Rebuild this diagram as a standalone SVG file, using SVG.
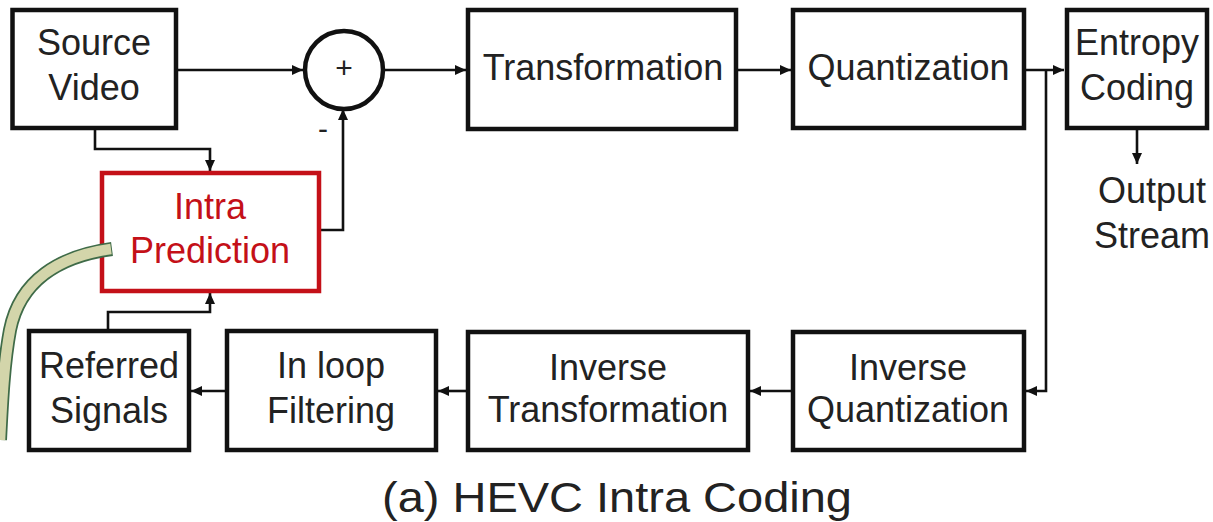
<svg xmlns="http://www.w3.org/2000/svg" width="1213" height="522" viewBox="0 0 1213 522">
<style>
.box{fill:#fff;stroke:#111;stroke-width:4.5}
.red{fill:#fff;stroke:#C41018;stroke-width:4.5}
.t{font-family:"Liberation Sans",Arial,sans-serif;font-size:36px;fill:#222;text-anchor:middle}
.tr{fill:#C41018}
.c{fill:none;stroke:#111;stroke-width:2.6}
</style>
<defs>
<marker id="ah" markerUnits="userSpaceOnUse" markerWidth="11" markerHeight="10" refX="11" refY="5" orient="auto">
<path d="M0,0 L11,5 L0,10 Z" fill="#111"/>
</marker>
</defs>
<rect width="1213" height="522" fill="#fff"/>
<g id="connectors">
<path class="c" d="M178 70 H303" marker-end="url(#ah)"/>
<path class="c" d="M385 70 H466" marker-end="url(#ah)"/>
<path class="c" d="M738 70 H791" marker-end="url(#ah)"/>
<path class="c" d="M1026 70 H1064" marker-end="url(#ah)"/>
<path class="c" d="M1046 70 V391 H1026" marker-end="url(#ah)"/>
<path class="c" d="M1137 130 V164" marker-end="url(#ah)"/>
<path class="c" d="M791 391 H750" marker-end="url(#ah)"/>
<path class="c" d="M466 391 H438" marker-end="url(#ah)"/>
<path class="c" d="M225 391 H191" marker-end="url(#ah)"/>
<path class="c" d="M108 329 V312 H210 V293" marker-end="url(#ah)"/>
<path class="c" d="M95 130 V149 H210 V171" marker-end="url(#ah)"/>
<path class="c" d="M321 230 H343 V109" marker-end="url(#ah)"/>
</g>
<g id="source-video">
<rect class="box" x="12.5" y="10" width="163.5" height="118"/>
<text class="t" x="94" y="55">Source</text>
<text class="t" x="94" y="100">Video</text>
</g>
<g id="sum">
<circle cx="344" cy="70" r="39" fill="#fff" stroke="#111" stroke-width="4.5"/>
<text class="t" x="344" y="78" style="font-size:30px">+</text>
<text class="t" x="323" y="139" style="font-size:30px">-</text>
</g>
<g id="transformation">
<rect class="box" x="468" y="10" width="268" height="119"/>
<text class="t" x="603" y="80">Transformation</text>
</g>
<g id="quantization">
<rect class="box" x="793" y="10" width="231" height="118"/>
<text class="t" x="908.5" y="80">Quantization</text>
</g>
<g id="entropy-coding">
<rect class="box" x="1067" y="10" width="140" height="118"/>
<text class="t" x="1137" y="55">Entropy</text>
<text class="t" x="1137" y="100">Coding</text>
</g>
<g id="output-stream">
<text class="t" x="1152" y="203">Output</text>
<text class="t" x="1152" y="248">Stream</text>
</g>
<g id="intra-prediction">
<rect class="red" x="102" y="173" width="217" height="118"/>
<text class="t tr" x="210" y="219">Intra</text>
<text class="t tr" x="210" y="263">Prediction</text>
</g>
<g id="referred-signals">
<rect class="box" x="29" y="331" width="160" height="119"/>
<text class="t" x="109" y="378">Referred</text>
<text class="t" x="109" y="423">Signals</text>
</g>
<g id="in-loop-filtering">
<rect class="box" x="227" y="331" width="209" height="119"/>
<text class="t" x="331" y="378">In loop</text>
<text class="t" x="331" y="423">Filtering</text>
</g>
<g id="inverse-transformation">
<rect class="box" x="468" y="332" width="280" height="118"/>
<text class="t" x="608" y="380">Inverse</text>
<text class="t" x="608" y="422">Transformation</text>
</g>
<g id="inverse-quantization">
<rect class="box" x="793" y="332" width="231" height="118"/>
<text class="t" x="908" y="380">Inverse</text>
<text class="t" x="908" y="422">Quantization</text>
</g>
<g id="pointer">
<path d="M112 249 C60 256 20 280 10 330 C4 362 2 400 0 440" fill="none" stroke="#3f6b48" stroke-width="14"/>
<path d="M111 249 C60 256 20 280 10 330 C4 362 2 400 0 440" fill="none" stroke="#D3D5AA" stroke-width="10.5"/>
</g>
<text class="t" x="617" y="512" style="font-size:43px" textLength="470" lengthAdjust="spacingAndGlyphs">(a) HEVC Intra Coding</text>
</svg>
